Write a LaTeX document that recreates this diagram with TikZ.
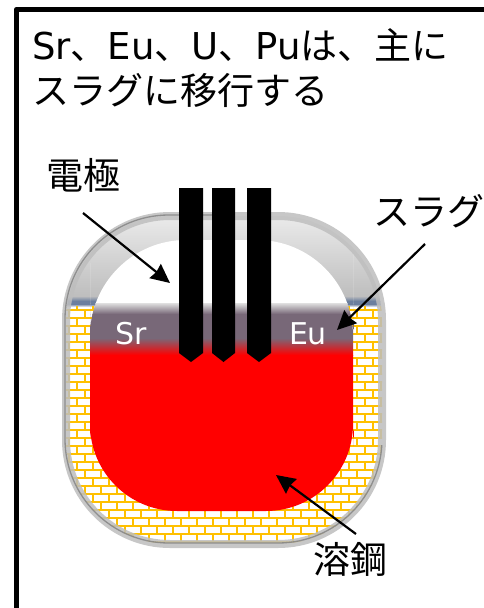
\documentclass[tikz,border=0pt]{standalone}
\usepackage{fontspec}
\setmainfont{DejaVu Sans}
\newfontfamily\jpf{Noto Sans CJK JP}
\usetikzlibrary{arrows.meta}
\definecolor{brick}{HTML}{FFC000}
\definecolor{slag}{HTML}{786878}
\definecolor{band}{HTML}{BEBEBE}
\definecolor{bluegas}{HTML}{6C7F9E}
\tikzset{
  x=1pt,y=-1pt,
  labeltext/.style={anchor=base west,inner sep=0pt,font=\fontsize{37}{37}\selectfont,text=black},
  elementtext/.style={anchor=base,inner sep=0pt,font=\fontsize{30}{30}\selectfont,text=white},
  callout/.style={draw=black,line width=2.2pt,-{Stealth[length=19pt,width=18pt,inset=1.5pt]}},
  electrode/.style={fill=black,draw=none},
  vesselround/.style={rounded corners=104pt},
}
\newcommand{\vesselpath}{(66,216) rectangle (382,544)}
\begin{document}
\begin{tikzpicture}
\useasboundingbox (0,0) rectangle (484,608);
\fill[white] (0,0) rectangle (484,608);
% frame
\draw[black,line width=5.5pt,line join=round] (16.5,620) -- (16.5,9.5) -- (500,9.5);
% gas zone above the brick lining
\begin{scope}
  \clip[vesselround] \vesselpath;
  \shade[top color=white!92!black,bottom color=band] (60,216) rectangle (390,296);
  \shade[top color=band,bottom color=bluegas] (60,296) rectangle (390,301);
  \fill[bluegas] (60,301) rectangle (390,304);
  \shade[top color=bluegas,bottom color=white] (60,304) rectangle (390,307);
\end{scope}
% bricks
\begin{scope}
  \clip[vesselround] \vesselpath;
  \clip (60,306) rectangle (390,542);
  \foreach \r in {0,...,29}{
    \pgfmathsetmacro{\yb}{541.7-8*\r}
    \pgfmathsetmacro{\yt}{\yb-8}
    \draw[brick,line width=1.7pt] (60,\yb) -- (390,\yb);
    \pgfmathsetmacro{\off}{isodd(\r) ? 61 : 53}
    \foreach \k in {0,...,20}{
      \draw[brick,line width=1.7pt] (\off+16*\k,\yb) -- (\off+16*\k,\yt);
    }
  }
\end{scope}
% outer band
\draw[band,line width=8pt,opacity=.85,vesselround] \vesselpath;
\begin{scope}
  \clip (0,200) -- (228,200) -- (228,445) -- (390,445) -- (390,560) -- (0,560) -- cycle;
  \draw[black!50,line width=1.3pt,opacity=.8,vesselround] (65,215) rectangle (382,543);
\end{scope}
% cavity with slag and steel
\begin{scope}
  \clip (90,350) [rounded corners=96pt] -- (90,240) -- (353,240) -- (353,350)
    [rounded corners=87pt] -- (353,511) -- (90,511) -- cycle;
  \fill[white] (80,230) rectangle (360,304);
  \shade[top color=white!88!black,bottom color=slag] (80,303) rectangle (360,314);
  \fill[slag] (80,314) rectangle (360,338);
  \shade[top color=slag,bottom color=red] (80,338) rectangle (360,355);
  \fill[red] (80,355) rectangle (360,520);
\end{scope}
% electrodes
\fill[electrode] (179,188) -- (203,188) -- (203,353) -- (191,362) -- (179,353) -- cycle;
\fill[electrode] (212,188) -- (235,188) -- (235,353) -- (223.5,362) -- (212,353) -- cycle;
\fill[electrode] (247,188) -- (271,188) -- (271,353) -- (259,362) -- (247,353) -- cycle;
% element names
\node[elementtext] (sr) at (131,344) {Sr};
\node[elementtext] (eu) at (308,344) {Eu};
% title
\node[labeltext] (title1) at (32,59) {Sr{\jpf 、}Eu{\jpf 、}U{\jpf 、}Pu{\jpf は、主に}};
\node[labeltext] (title2) at (32,104) {\jpf スラグに移行する};
% labels
\node[labeltext] (electrodelabel) at (46,189) {\jpf 電極};
\node[labeltext] (slaglabel) at (373,225) {\jpf スラグ};
\node[labeltext] (steellabel) at (313,573) {\jpf 溶鋼};
% callouts
\coordinate (electrodefrom) at (83,213);
\coordinate (electrodeto) at (170,283);
\coordinate (slagfrom) at (425,244);
\coordinate (slagto) at (337,330);
\coordinate (steelfrom) at (356,534);
\coordinate (steelto) at (276,475);
\draw[callout] (electrodefrom) -- (electrodeto);
\draw[callout] (slagfrom) -- (slagto);
\draw[callout] (steelfrom) -- (steelto);
\end{tikzpicture}
\end{document}
